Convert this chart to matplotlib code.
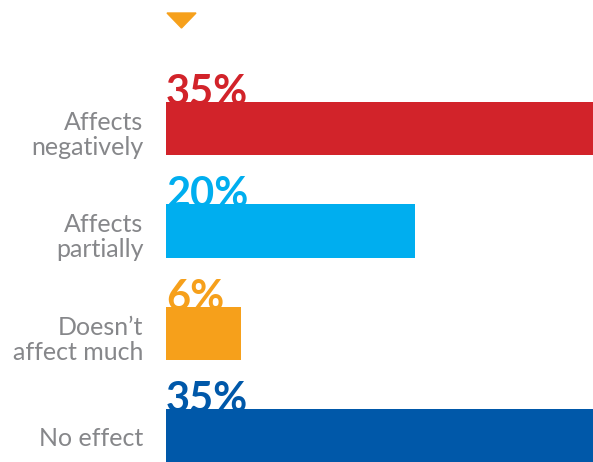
import matplotlib
matplotlib.use("Agg")
import matplotlib.pyplot as plt
from matplotlib.patches import Polygon

# data
labels = ["Affects\nnegatively", "Affects\npartially", "Doesn\u2019t\naffect much", "No effect"]
values = [35, 20, 6, 35]
colors = ["#d2232a", "#00aeef", "#f6a01b", "#0058a9"]

W, H = 593, 462
fig = plt.figure(figsize=(W / 100, H / 100), dpi=100)
ax = fig.add_axes([166 / W, 0, 1 - 166 / W, 1])

bar_h = 0.52
pos = list(range(len(values)))
ax.barh(pos, values, height=bar_h, color=colors, zorder=3)

for i, (v, c, lab) in enumerate(zip(values, colors, labels)):
    ax.text(0.0, i - bar_h / 2 + 0.03, f"{v}%", color=c, fontsize=30,
            fontweight="bold", family="Lato", va="baseline", ha="left", zorder=2)
    dy = 0.06 if "\n" in lab else 0.02
    ax.text(-1.8, i + dy, lab, color="#86878a", fontsize=18, family="Lato",
            ha="right", va="center", linespacing=1.1, clip_on=False)

# 12.45 px per percent, bars run off the right edge
ax.set_xlim(0, 427 / 12.45)
ax.set_ylim((462 - 128.5) / 102.5, -128.5 / 102.5)
ax.axis("off")

# small marker triangle at the top
tri = Polygon([[167 / W, 1 - 13 / H], [196 / W, 1 - 13 / H], [181.5 / W, 1 - 28 / H]],
              closed=True, transform=fig.transFigure, color="#f6a01b")
fig.patches.append(tri)

fig.savefig("out.png", dpi=100)
